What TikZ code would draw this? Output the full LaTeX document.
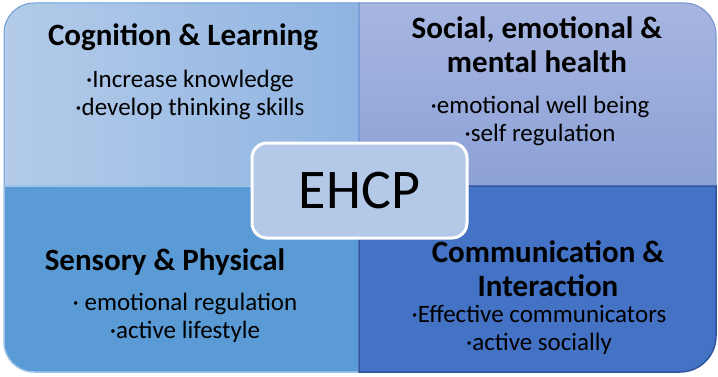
\documentclass[tikz,border=0pt]{standalone}
\usepackage{fontspec}
\setmainfont{Carlito}
\usepackage{xcolor}
\usetikzlibrary{positioning}

\definecolor{cogLeft}{HTML}{B4CBE9}
\definecolor{cogRight}{HTML}{8FB4E2}
\definecolor{cogEdge}{HTML}{6A9FD8}
\definecolor{socTop}{HTML}{A7B6E1}
\definecolor{socBottom}{HTML}{8CA1D6}
\definecolor{socEdge}{HTML}{6F8ED0}
\definecolor{senFill}{HTML}{5B9BD5}
\definecolor{senEdge}{HTML}{9DC3E6}
\definecolor{comFill}{HTML}{4472C4}
\definecolor{comEdge}{HTML}{2F559F}
\definecolor{ehcpFill}{HTML}{B4C8E8}

\begin{document}
\begin{tikzpicture}[x=1pt, y=1pt,
					HeadText/.style={font=\fontsize{31}{34}\selectfont\bfseries, align=center, inner sep=0pt},
					ItemText/.style={font=\fontsize{25}{28}\selectfont, align=center, inner sep=0pt},
					EhcpBox/.style={draw=white, line width=3pt, fill=ehcpFill, rounded corners=15pt,
						minimum width=215pt, minimum height=95pt, font=\fontsize{56}{60}\selectfont}]
				\useasboundingbox (0,0) rectangle (718,376);

				% Quadrants
				\shade[left color=cogLeft, right color=cogRight, draw=cogEdge, line width=1pt]
					(4,190) -- (4,343) arc[start angle=180, end angle=90, radius=30] -- (359,373) -- (359,190) -- cycle;
				\shade[top color=socTop, bottom color=socBottom, draw=socEdge, line width=1pt]
					(359,190) -- (359,373) -- (684,373) arc[start angle=90, end angle=0, radius=32] -- (716,190) -- cycle;
				\fill[senFill, draw=senEdge, line width=1.5pt]
					(4,190) -- (359,190) -- (359,4) -- (34,4) arc[start angle=270, end angle=180, radius=30] -- cycle;
				\fill[comFill, draw=comEdge, line width=1.5pt]
					(359,190) -- (716,190) -- (716,40) arc[start angle=0, end angle=-90, radius=36] -- (359,4) -- cycle;

				% Nodes
				\node[HeadText] (CogHead) at (183,339) {Cognition \& Learning};
				\node[ItemText] (CogItems) at (190,281) {·Increase knowledge\\·develop thinking skills};

				\node[HeadText] (SocHead) at (537,331) {Social, emotional \&\\mental health};
				\node[ItemText] (SocItems) at (540,255) {·emotional well being\\·self regulation};

				\node[HeadText] (SenHead) at (165,114) {Sensory \& Physical};
				\node[ItemText] (SenItems) at (185,58) {· emotional regulation\\·active lifestyle};

				\node[HeadText] (ComHead) at (548,107) {Communication \&\\Interaction};
				\node[ItemText] (ComItems) at (539,46) {·Effective communicators\\·active socially};

				\node[EhcpBox] (Ehcp) at (359.5,185.5) {EHCP};
			\end{tikzpicture}
\end{document}
